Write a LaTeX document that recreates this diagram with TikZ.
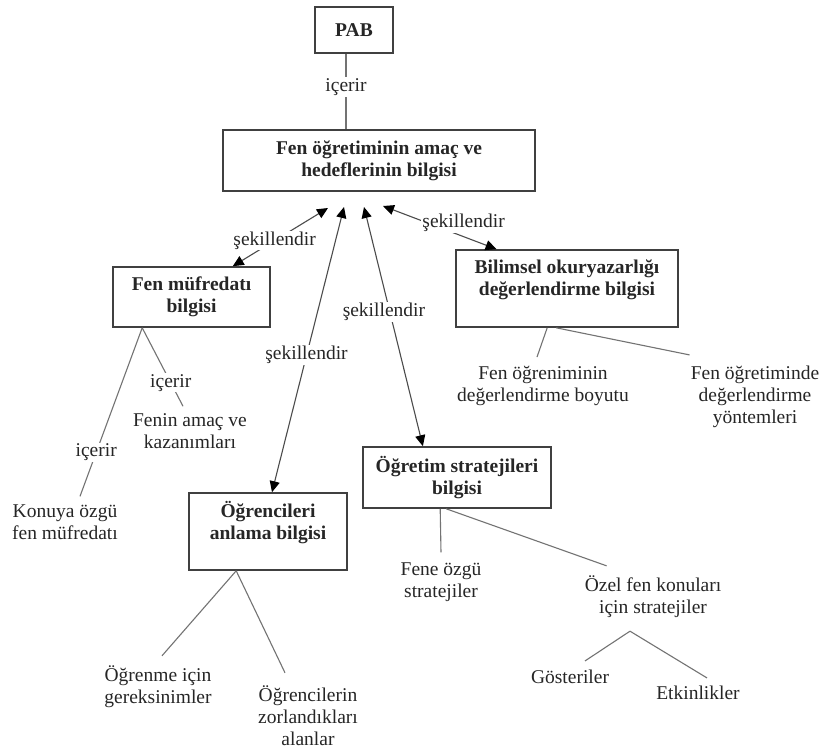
\documentclass[tikz,border=0pt]{standalone}
\usepackage{fontspec}
\setmainfont{Liberation Serif}
\usetikzlibrary{arrows.meta,calc}
\begin{document}
\begin{tikzpicture}[x=1pt,y=-1pt,
  every node/.style={font=\rmfamily\fontsize{19.5}{22}\selectfont, text=black!85},
  box/.style={draw=black!75, line width=1.6pt, fill=white, align=center, font=\rmfamily\fontsize{19.5}{22}\selectfont\bfseries, inner sep=2pt},
  txt/.style={align=center, inner sep=1pt},
  lab/.style={fill=white, inner sep=1pt},
  plain/.style={draw=black!55, line width=1.1pt},
  tip/.tip={Triangle[length=11pt,width=10pt,color=black]},
  arr/.style={draw=black!70, line width=1.1pt, tip-tip}
]
\path[use as bounding box, fill=white] (0,0) rectangle (822,749);

% boxes
\node[box, minimum width=78pt, minimum height=46pt] (pab) at (354,30) {PAB};
\node[box, minimum width=312pt, minimum height=61pt] (main) at (379,160.5) {Fen öğretiminin amaç ve\\hedeflerinin bilgisi};
\node[box, minimum width=157pt, minimum height=60pt] (fm) at (191.5,297) {Fen müfredatı\\bilgisi};
\node[box, minimum width=222pt, minimum height=77pt, text depth=21pt] (bo) at (567,288.5) {Bilimsel okuryazarlığı\\değerlendirme bilgisi};
\node[box, minimum width=158pt, minimum height=77pt, text depth=22pt] (oa) at (268,531.5) {Öğrencileri\\anlama bilgisi};
\node[box, minimum width=188pt, minimum height=61pt] (os) at (457,477.5) {Öğretim stratejileri\\bilgisi};

% plain text nodes
\node[txt] (fam) at (190,431) {Fenin amaç ve\\kazanımları};
\node[txt] (kon) at (65,522) {Konuya özgü\\fen müfredatı};
\node[txt] (fob) at (543,386) {Fen öğreniminin\\değerlendirme boyutu};
\node[txt] (fod) at (755,397) {Fen öğretiminde\\değerlendirme\\yöntemleri};
\node[txt] (oig) at (158,687) {Öğrenme için\\gereksinimler};
\node[txt] (ozl) at (308,716) {Öğrencilerin\\zorlandıkları\\alanlar};
\node[txt] (foz) at (441,582) {Fene özgü\\stratejiler};
\node[txt] (ozf) at (653,597) {Özel fen konuları\\için stratejiler};
\node[txt] (gos) at (570,677) {Gösteriler};
\node[txt] (etk) at (698,693) {Etkinlikler};

% free arrow ends below the main box
\coordinate (a1) at (328,208);
\coordinate (a2) at (344,207);
\coordinate (a3) at (364,207);
\coordinate (a4) at (383,206);

% PAB -> main
\draw[plain] ([xshift=-8pt]pab.south) -- node[lab, pos=0.44] {içerir} ([xshift=-8pt]pab.south |- main.north);

% arrows (şekillendir)
\draw[arr] (a1) -- node[lab, pos=0.56] {şekillendir} ($(fm.north west)!0.76!(fm.north east)$);
\draw[arr] (a2) -- node[lab, pos=0.52] {şekillendir} ($(oa.north west)!0.525!(oa.north east)$);
\draw[arr] (a3) -- node[lab, pos=0.44, xshift=-6pt] {şekillendir} ($(os.north west)!0.32!(os.north east)$);
\draw[arr] (a4) -- node[lab, pos=0.71, yshift=14pt] {şekillendir} ($(bo.north west)!0.185!(bo.north east)$);

% Fen müfredatı bilgisi children
\draw[plain] ([xshift=30pt]fm.south west) -- node[lab, pos=0.70] {içerir} ([shift={(-7,-6)}]fam.north);
\draw[plain] ([xshift=30pt]fm.south west) -- node[lab, pos=0.74] {içerir} ([shift={(15,-7)}]kon.north);

% Bilimsel children
\draw[plain] ([xshift=92pt]bo.south west) -- ([shift={(-6,-8)}]fob.north);
\draw[plain] ([xshift=101pt]bo.south west) -- ([shift={(0,-10)}]fod.north west);

% Öğrencileri children
\draw[plain] ([xshift=48pt]oa.south west) -- ([shift={(4,-9)}]oig.north);
\draw[plain] ([xshift=48pt]oa.south west) -- ([shift={(-23,-12)}]ozl.north);

% Öğretim stratejileri children
\draw[plain] ([xshift=78pt]os.south west) -- ([shift={(0,-9)}]foz.north);
\draw[plain] ([xshift=84pt]os.south west) -- ([shift={(23,-9)}]ozf.north west);

% Özel fen konuları children
\draw[plain] ([shift={(-23,12)}]ozf.south) -- ([shift={(15,-8)}]gos.north);
\draw[plain] ([shift={(-23,12)}]ozf.south) -- ([shift={(9,-7)}]etk.north);
\end{tikzpicture}
\end{document}
